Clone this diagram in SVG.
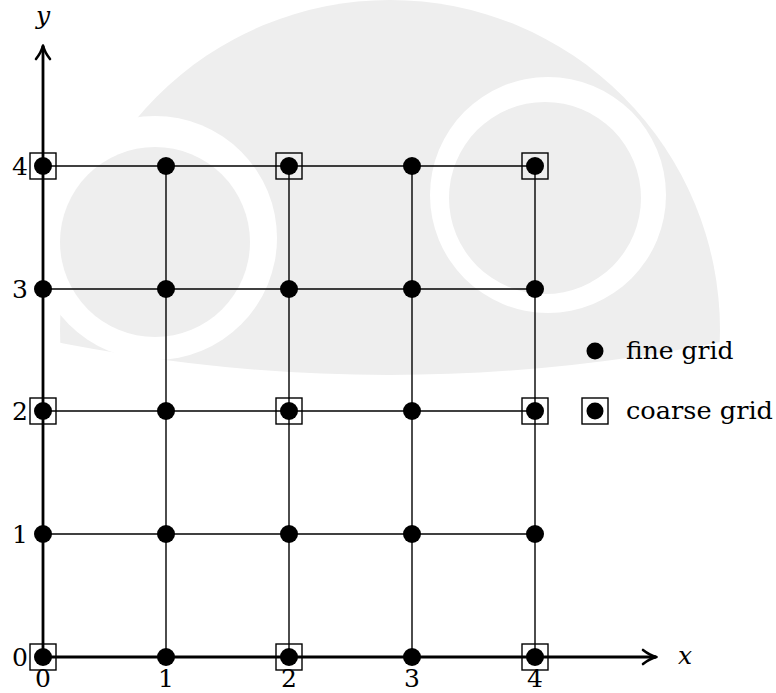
<svg xmlns="http://www.w3.org/2000/svg" width="776" height="693" viewBox="0 0 776 693">
<style>
.wm{fill:#eeeeee}
.wh{fill:#ffffff}
.grid{stroke:#000;stroke-width:1.4;fill:none}
.axis{stroke:#000;stroke-width:2.8;fill:none}
.dot{fill:#000}
.sq{fill:none;stroke:#000;stroke-width:1.4}
.lbl{font-family:"DejaVu Serif","Liberation Serif",serif;font-size:25px;fill:#000}
.var{font-family:"DejaVu Serif","Liberation Serif",serif;font-style:italic;font-size:25px;fill:#000}
</style>
<defs>
<marker id="arr" viewBox="0 0 18 18" refX="15" refY="9" markerWidth="18" markerHeight="18" markerUnits="userSpaceOnUse" orient="auto">
<path d="M2,2 Q9,7.5 15.5,9 Q9,10.5 2,16" fill="none" stroke="#000" stroke-width="2.6" stroke-linecap="round" stroke-linejoin="round"/>
</marker>
<clipPath id="wmclip"><path d="M0,0 H776 V330 Q390,420 0,330 Z"/></clipPath>
</defs>
<g id="watermark">
<g clip-path="url(#wmclip)">
<circle class="wm" cx="390" cy="330" r="330"/>
</g>
<circle class="wh" cx="155" cy="238" r="122"/>
<circle class="wm" cx="155" cy="242" r="95"/>
<circle class="wh" cx="548" cy="195" r="118"/>
<circle class="wm" cx="545" cy="198" r="96"/>
</g>
<g id="connectors">
<line class="grid" x1="43" y1="534" x2="535" y2="534"/>
<line class="grid" x1="43" y1="411" x2="535" y2="411"/>
<line class="grid" x1="43" y1="289" x2="535" y2="289"/>
<line class="grid" x1="43" y1="166" x2="535" y2="166"/>
<line class="grid" x1="166" y1="657" x2="166" y2="166"/>
<line class="grid" x1="289" y1="657" x2="289" y2="166"/>
<line class="grid" x1="412" y1="657" x2="412" y2="166"/>
<line class="grid" x1="535" y1="657" x2="535" y2="166"/>
<line id="x-axis" class="axis" x1="43" y1="657" x2="656" y2="657" marker-end="url(#arr)"/>
<line id="y-axis" class="axis" x1="43" y1="657" x2="43" y2="46" marker-end="url(#arr)"/>
</g>
<g id="nodes">
<g id="n00"><circle class="dot" cx="43" cy="657" r="9"/><rect class="sq" x="30" y="644" width="26" height="26"/></g>
<g id="n10"><circle class="dot" cx="166" cy="657" r="9"/></g>
<g id="n20"><circle class="dot" cx="289" cy="657" r="9"/><rect class="sq" x="276" y="644" width="26" height="26"/></g>
<g id="n30"><circle class="dot" cx="412" cy="657" r="9"/></g>
<g id="n40"><circle class="dot" cx="535" cy="657" r="9"/><rect class="sq" x="522" y="644" width="26" height="26"/></g>
<g id="n01"><circle class="dot" cx="43" cy="534" r="9"/></g>
<g id="n11"><circle class="dot" cx="166" cy="534" r="9"/></g>
<g id="n21"><circle class="dot" cx="289" cy="534" r="9"/></g>
<g id="n31"><circle class="dot" cx="412" cy="534" r="9"/></g>
<g id="n41"><circle class="dot" cx="535" cy="534" r="9"/></g>
<g id="n02"><circle class="dot" cx="43" cy="411" r="9"/><rect class="sq" x="30" y="398" width="26" height="26"/></g>
<g id="n12"><circle class="dot" cx="166" cy="411" r="9"/></g>
<g id="n22"><circle class="dot" cx="289" cy="411" r="9"/><rect class="sq" x="276" y="398" width="26" height="26"/></g>
<g id="n32"><circle class="dot" cx="412" cy="411" r="9"/></g>
<g id="n42"><circle class="dot" cx="535" cy="411" r="9"/><rect class="sq" x="522" y="398" width="26" height="26"/></g>
<g id="n03"><circle class="dot" cx="43" cy="289" r="9"/></g>
<g id="n13"><circle class="dot" cx="166" cy="289" r="9"/></g>
<g id="n23"><circle class="dot" cx="289" cy="289" r="9"/></g>
<g id="n33"><circle class="dot" cx="412" cy="289" r="9"/></g>
<g id="n43"><circle class="dot" cx="535" cy="289" r="9"/></g>
<g id="n04"><circle class="dot" cx="43" cy="166" r="9"/><rect class="sq" x="30" y="153" width="26" height="26"/></g>
<g id="n14"><circle class="dot" cx="166" cy="166" r="9"/></g>
<g id="n24"><circle class="dot" cx="289" cy="166" r="9"/><rect class="sq" x="276" y="153" width="26" height="26"/></g>
<g id="n34"><circle class="dot" cx="412" cy="166" r="9"/></g>
<g id="n44"><circle class="dot" cx="535" cy="166" r="9"/><rect class="sq" x="522" y="153" width="26" height="26"/></g>
</g>
<g id="labels">
<text class="var" x="43" y="24" text-anchor="middle">y</text>
<text class="var" x="685" y="664" text-anchor="middle">x</text>
<g text-anchor="middle">
<text class="lbl" x="20" y="666">0</text>
<text class="lbl" x="20" y="543">1</text>
<text class="lbl" x="20" y="420">2</text>
<text class="lbl" x="20" y="298">3</text>
<text class="lbl" x="20" y="175">4</text>
<text class="lbl" x="43" y="687">0</text>
<text class="lbl" x="166" y="687">1</text>
<text class="lbl" x="289" y="687">2</text>
<text class="lbl" x="412" y="687">3</text>
<text class="lbl" x="535" y="687">4</text>
</g>
</g>
<g id="legend">
<g id="legend-fine"><circle class="dot" cx="595" cy="351" r="8.5"/><text class="lbl" x="626" y="359">fine grid</text></g>
<g id="legend-coarse"><circle class="dot" cx="595" cy="411" r="8.5"/><rect class="sq" x="582" y="398" width="26" height="26"/><text class="lbl" x="626" y="419" textLength="147" lengthAdjust="spacingAndGlyphs">coarse grid</text></g>
</g>
</svg>
